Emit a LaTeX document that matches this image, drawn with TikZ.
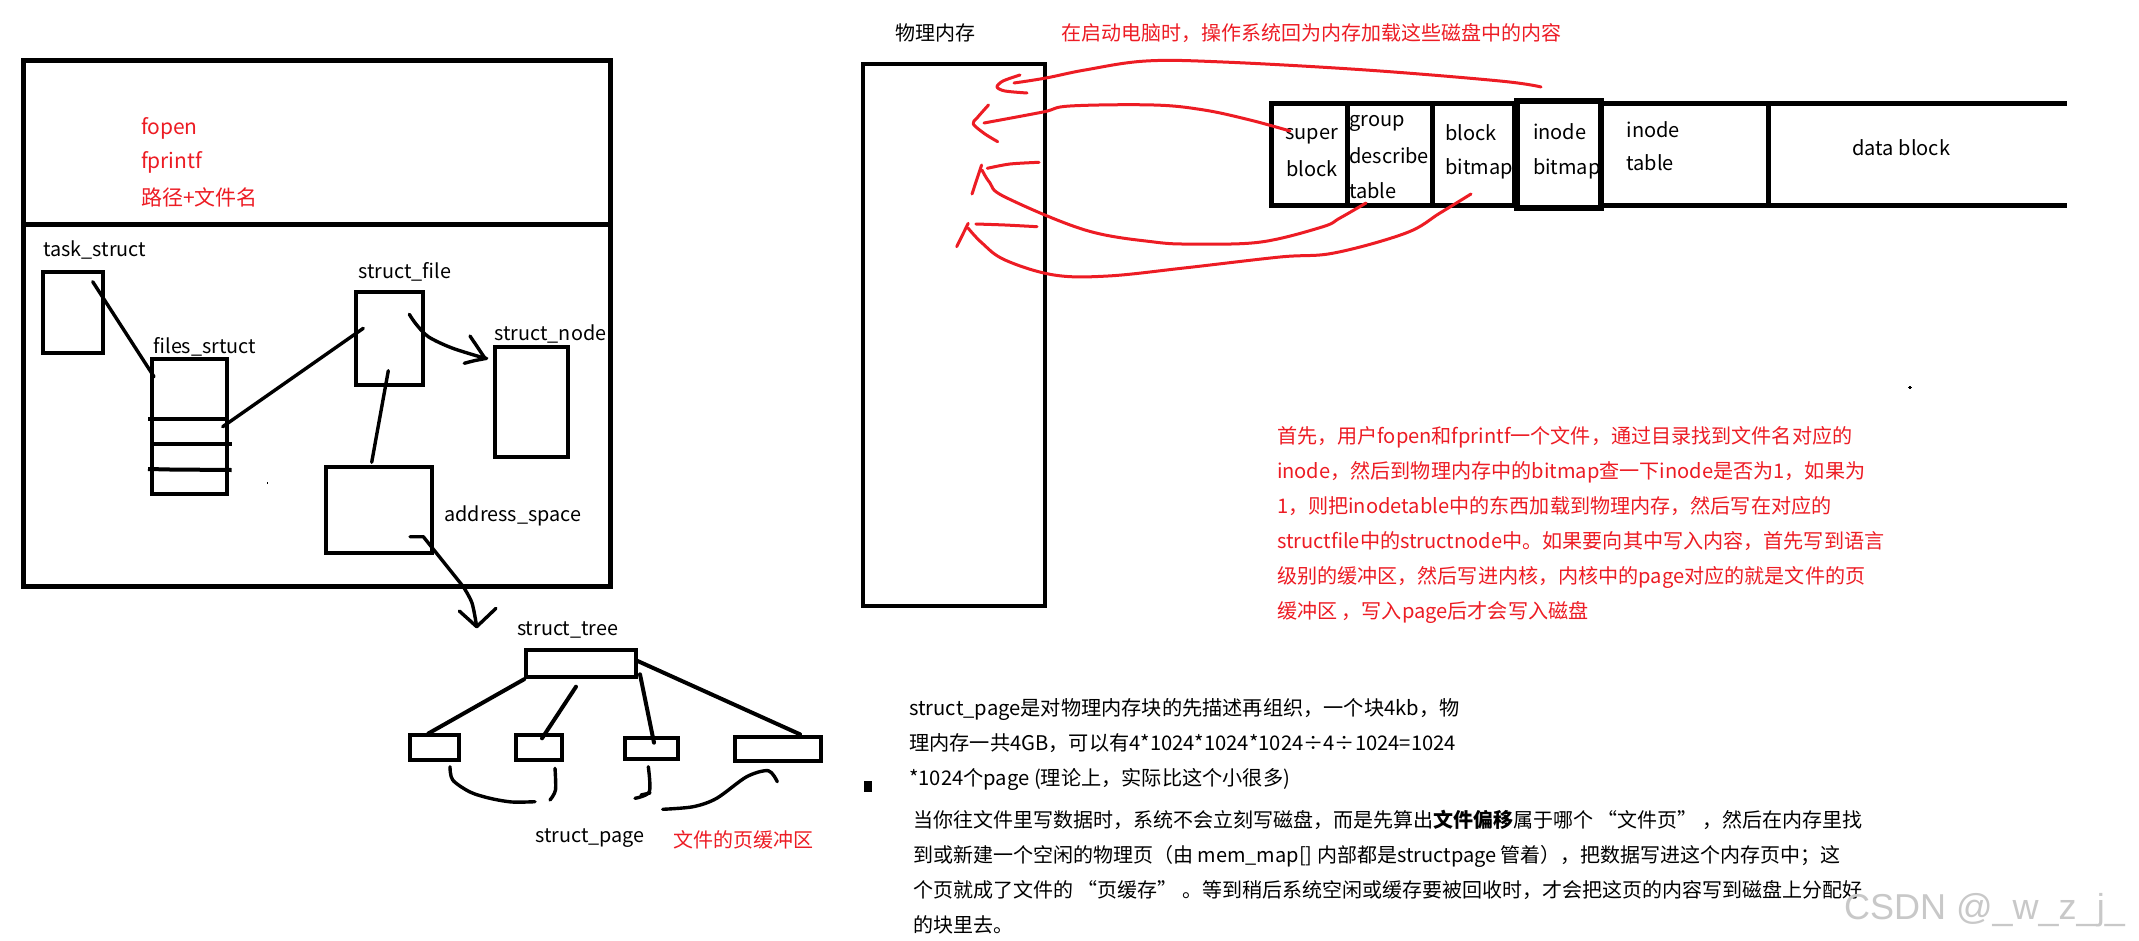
\documentclass[tikz,border=0pt]{standalone}
\usepackage{fontspec}
\setmainfont{Noto Sans CJK SC}
\newfontfamily\wmfont{Liberation Sans}
\definecolor{pred}{RGB}{237,28,36}
\definecolor{wmgray}{RGB}{200,200,200}
\begin{document}
\begin{tikzpicture}[x=1pt,y=-1pt,
  frame/.style 2 args={draw, line width=4pt, inner sep=0pt, minimum width=#1pt, minimum height=#2pt},
  cell/.style 2 args={draw, line width=5pt, inner sep=0pt, minimum width=#1pt, minimum height=#2pt},
  lbl/.style={inner sep=0pt, anchor=base west, font=\fontsize{19.8}{24}\selectfont},
  slbl/.style={inner sep=0pt, anchor=base west, font=\fontsize{20}{24}\selectfont},
  rtxt/.style={inner sep=0pt, anchor=base west, text=pred, font=\fontsize{21}{25}\selectfont},
  ptxt/.style={inner sep=0pt, anchor=base west, text=pred, font=\fontsize{20.1}{24}\selectfont},
  btxtA/.style={inner sep=0pt, anchor=base west, font=\fontsize{20.2}{25}\selectfont},
  btxtB/.style={inner sep=0pt, anchor=base west, font=\fontsize{20}{24}\selectfont},
  link/.style={line width=3.4pt, line cap=round, line join=round},
  tlink/.style={line width=4pt, line cap=round, line join=round},
  redink/.style={draw=pred, line width=3pt, line cap=round, line join=round}
]
\fill[white] (0,0) rectangle (2139,940);
\useasboundingbox (0,0) rectangle (2139,940);

% ---------------- left panel ----------------
\node[frame={587.5}{525.3}, line width=5pt] (outer) at (317.05,323.35) {};
\coordinate (divL) at (23.3,224.6);
\coordinate (divR) at (610.8,224.6);
\draw[line width=5pt] (divL) -- (divR);

\node[rtxt] (fopen) at (140.8,134.6) {fopen};
\node[rtxt] (fprintf) at (140.8,168.6) {fprintf};
\node[rtxt] (path) at (140.8,205) {路径+文件名};

\node[lbl] (tasklbl) at (43.3,256) {task\_struct};
\node[frame={60.4}{81.2}] (task) at (73,312.1) {};

\node[lbl] (fileslbl) at (153.3,353.7) {files\_srtuct};
\node[frame={75.3}{135}] (files) at (189.65,426.2) {};
\draw[line width=4pt] (148,419.3) -- (229,419.3);
\draw[line width=4pt] (152,444.3) -- (231.7,444.3);
\draw[line width=4pt] (148,469) -- (170,469.5) -- (231.7,470);

\node[lbl] (sfilelbl) at (358.3,278.7) {struct\_file};
\node[frame={67.7}{93.2}] (sfile) at (389.35,338.1) {};

\node[lbl] (snodelbl) at (494.3,340.3) {struct\_node};
\node[frame={73.1}{110.2}] (snode) at (531.25,402.1) {};

\node[frame={106.7}{86.7}] (addr) at (378.85,509.85) {};
\node[lbl] (addrlbl) at (444.3,521) {address\_space};

\fill (266.5,482) rectangle (268.3,483.6);

% connectors
\coordinate (tA) at (92.7,281.7);
\coordinate (fA) at (154,376.7);
\draw[link] (tA) -- (fA);
\coordinate (fB) at (222.7,426.7);
\coordinate (sA) at (363.3,328.3);
\draw[link] (fB) -- (sA);
\coordinate (sB) at (388.3,370.7);
\coordinate (aA) at (371.7,462.3);
\draw[link] (sB) -- (aA);
% struct_file -> struct_node
\draw[link] plot[smooth] coordinates {(409.3,314.3) (416,324) (428.3,336.7) (452,348) (485,358.3)};
\draw[link] (470,336) -- (485,358.3);
\draw[link] plot[smooth] coordinates {(464.3,363.3) (474.3,360.7) (486.7,358.3)};
% address_space -> struct_tree
\draw[link] (410,536.7) -- (423.3,536.7) -- (463.3,586.7);
\draw[link] plot[smooth] coordinates {(463.3,586.7) (472,603) (476.7,626.7)};
\draw[link] (459.3,611) -- (476.7,626.7) -- (496,608.3);

% ---------------- tree ----------------
\node[inner sep=0pt, anchor=base, font=\fontsize{19.8}{24}\selectfont] (treelbl) at (567.7,635.3) {struct\_tree};
\node[frame={109.3}{26.9}] (root) at (580.85,663.75) {};
\node[frame={49}{24.4}] (pg1) at (434.8,747.5) {};
\node[frame={45.7}{24.4}] (pg2) at (539.15,747.5) {};
\node[frame={52.7}{20.4}] (pg3) at (651.65,748.5) {};
\node[frame={86.6}{23.2}] (pg4) at (778,748.9) {};
\draw[tlink] (root.south west) -- (428.3,733.5);
\draw[tlink] (576,686.7) -- (542,738.3);
\draw[tlink] (640,674.3) -- (654,742.7);
\draw[tlink] (637,660.7) -- (800,734.3);

\draw[link] plot[smooth] coordinates {(450,766.7) (452.7,780) (470,792) (490,798.3) (512,802) (535,801.7)};
\draw[link] plot[smooth] coordinates {(555,768.3) (555.5,790) (550,800)};
\draw[link] plot[smooth] coordinates {(648.3,766.7) (649.3,791.7) (635,798.3)};
\draw[link] (641,795) -- (650,793);
\draw[link] plot[smooth] coordinates {(662.7,809.3) (693.3,806.7) (716.7,798.3) (746.7,776.7) (768.3,770.7) (777.3,781.7)};

\node[inner sep=0pt, anchor=base, font=\fontsize{19.8}{24}\selectfont] (pagelbl) at (590,842) {struct\_page};
\node[inner sep=0pt, anchor=base, text=pred, font=\fontsize{20}{24}\selectfont] (pcache) at (743.3,847) {文件的页缓冲区};
\fill (864,781) rectangle (872,792.3);

% ---------------- physical memory ----------------
\node[inner sep=0pt, anchor=base west, font=\fontsize{20}{24}\selectfont] (memlbl) at (895,40.7) {物理内存};
\node[inner sep=0pt, anchor=base west, text=pred, font=\fontsize{20}{24}\selectfont] (boot) at (1061,40.7) {在启动电脑时，操作系统回为内存加载这些磁盘中的内容};
\node[frame={182}{541.7}] (mem) at (953.5,335.15) {};

% ---------------- disk strip ----------------
\node[cell={75.7}{101.7}] (super) at (1309.45,154.65) {};
\node[cell={85}{101.7}] (group) at (1389.8,154.65) {};
\node[cell={82.1}{101.7}] (bbm) at (1473.35,154.65) {};
\node[cell={166.4}{101.7}] (itbl) at (1684.9,154.65) {};
\node[cell={83.5}{106.5}, line width=6pt] (ibm) at (1558.75,154.25) {};
\node[inner sep=0pt, minimum width=298.5pt, minimum height=101.7pt] (data) at (1917.35,154.65) {};
\draw[line width=5pt] (data.north west) -- (data.north east);
\draw[line width=5pt] (data.south west) -- (data.south east);

\node[inner sep=0pt, anchor=base, font=\fontsize{20}{24}\selectfont] (t1) at (1311.8,139.5) {super};
\node[inner sep=0pt, anchor=base, font=\fontsize{20}{24}\selectfont] (t2) at (1311.8,176.5) {block};
\node[slbl] (t3) at (1349,126.7) {group};
\node[slbl] (t4) at (1349,163.3) {describe};
\node[slbl] (t5) at (1349,198.3) {table};
\node[slbl] (t6) at (1445,140) {block};
\node[slbl] (t7) at (1445,174.3) {bitmap};
\node[slbl] (t8) at (1532.8,139.3) {inode};
\node[slbl] (t9) at (1532.8,174.3) {bitmap};
\node[slbl] (t10) at (1626.3,137.3) {inode};
\node[slbl] (t11) at (1626.3,170.7) {table};
\node[inner sep=0pt, anchor=base, font=\fontsize{20}{24}\selectfont] (t12) at (1901.3,155) {data block};

% ---------------- red arrows ----------------
\draw[redink] plot[smooth, tension=0.6] coordinates {(1541,87) (1500,81) (1366,70) (1223,62) (1146,61) (1085,70) (1046,78) (1014,83)};
\draw[redink] plot[smooth, tension=0.5] coordinates {(1020,75) (1003,81) (997,87) (1005,91) (1027,93)};

\draw[redink] plot[smooth, tension=0.6] coordinates {(1290,131) (1250,120) (1204,110) (1154,105) (1070,106) (1043,112) (984,123)};
\draw[redink] plot[smooth, tension=0.5] coordinates {(988.5,105) (977,118) (973.2,124) (985,134) (997.7,141.7)};

\draw[redink] plot[smooth, tension=0.6] coordinates {(1366,203) (1340,218) (1322,227) (1261,242) (1196,244) (1154,242) (1085,230) (1005,197) (990,183) (982,170)};
\draw[redink] (972,194) -- (981.6,165);
\draw[redink] plot[smooth] coordinates {(987.3,168.3) (1010,164) (1039,162.3)};

\draw[redink] plot[smooth, tension=0.6] coordinates {(1471,194) (1440,213) (1406,233) (1334,253) (1280,257) (1184,268) (1108,276) (1054,275) (1005,260) (982,243) (968,228)};
\draw[redink] (956.7,246.7) -- (968.2,223.3);
\draw[redink] plot[smooth] coordinates {(975.9,224) (1005,225) (1037,226.7)};

\fill (1909.2,385.8) rectangle (1910.8,388.8);
\fill (1907.8,386.5) rectangle (1912.2,388);

% ---------------- red paragraph ----------------
\node[ptxt] (r1) at (1276.8,443.5) {首先，用户fopen和fprintf一个文件，通过目录找到文件名对应的};
\node[ptxt] (r2) at (1276.8,478.5) {inode，然后到物理内存中的bitmap查一下inode是否为1，如果为};
\node[ptxt] (r3) at (1276.8,513.5) {1，则把inodetable中的东西加载到物理内存，然后写在对应的};
\node[ptxt] (r4) at (1276.8,548.5) {structfile中的structnode中。如果要向其中写入内容，首先写到语言};
\node[ptxt] (r5) at (1276.8,583.5) {级别的缓冲区，然后写进内核，内核中的page对应的就是文件的页};
\node[ptxt] (r6) at (1276.8,618.5) {缓冲区 ，写入page后才会写入磁盘};

% ---------------- black paragraph ----------------
\node[btxtA] (b1) at (909,715.5) {struct\_page是对物理内存块的先描述再组织，一个块4kb，物};
\node[btxtA] (b2) at (909,750.5) {理内存一共4GB，可以有4*1024*1024*1024÷4÷1024=1024};
\node[btxtA] (b3) at (909,785.5) {*1024个page (理论上，实际比这个小很多)};
\node[btxtB] (b4) at (913,827) {当你往文件里写数据时，系统不会立刻写磁盘，而是先算出\textbf{文件偏移}属于哪个 “文件页” ，然后在内存里找};
\node[btxtB] (b5) at (913,862) {到或新建一个空闲的物理页（由 mem\_map[] 内部都是structpage 管着），把数据写进这个内存页中；这};
\node[btxtB] (b6) at (913,897) {个页就成了文件的 “页缓存” 。等到稍后系统空闲或缓存要被回收时，才会把这页的内容写到磁盘上分配好};
\node[btxtB] (b7) at (913,932) {的块里去。};

\node[inner sep=0pt, anchor=base west, text=wmgray, font=\wmfont\fontsize{36}{40}\selectfont] (wm) at (1844,919) {CSDN @\_w\_z\_j\_};
\end{tikzpicture}
\end{document}
